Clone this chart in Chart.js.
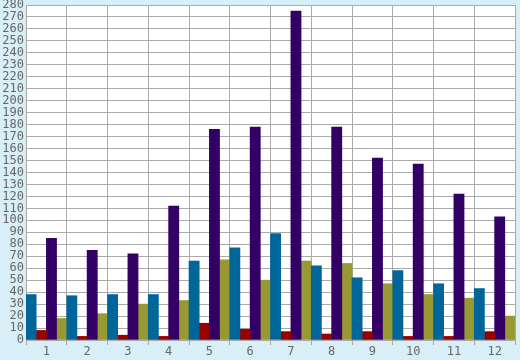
<!DOCTYPE html>
<html>
<head>
<meta charset="UTF-8">
<title>Bars</title>
<script src="https://cdn.jsdelivr.net/npm/chart.js"></script>
<style>
body{
  margin:0;
  background:#d9eff7;
}
</style>
</head>
<body>
<canvas id="chart" width="520" height="360"></canvas>

<script>
// datos
const labels = ["1","2","3","4","5","6","7","8","9","10","11","12"];
const blueVals   = [38, 37, 38, 38, 66, 77, 89, 62, 52, 58, 47, 43];
const redVals    = [8, 3, 4, 3, 14, 9, 7, 5, 7, 3, 3, 7];
const purpleVals = [85, 75, 72, 112, 176, 178, 275, 178, 152, 147, 122, 103];
const oliveVals  = [18, 22, 30, 33, 67, 50, 66, 64, 47, 38, 35, 20];
const yMax = 280;
const yStep = 10;

const font = {family:"DejaVu Sans Mono", size:12};

// fondo celeste + area blanca
const bgPlugin = {
  id:'bg',
  beforeDraw(chart){
    const c = chart.ctx, a = chart.chartArea;
    c.save();
    c.fillStyle = '#d9eff7';
    c.fillRect(0,0,chart.width,chart.height);
    c.fillStyle = '#ffffff';
    c.fillRect(a.left,a.top,a.right-a.left,a.bottom-a.top);
    c.restore();
  }
};

new Chart(document.getElementById('chart'),{
  type:'bar',
  data:{
    labels:labels,
    datasets:[
      {data:blueVals, backgroundColor:'#006699'},
      {data:redVals, backgroundColor:'#990000'},
      {data:purpleVals, backgroundColor:'#330066'},
      {data:oliveVals, backgroundColor:'#999933'}
    ]
  },
  options:{
    responsive:false,
    animation:false,
    devicePixelRatio:1,
    layout:{padding:{top:5, right:5, left:0, bottom:0}},
    plugins:{legend:{display:false}, tooltip:{enabled:false}},
    datasets:{bar:{categoryPercentage:1, barPercentage:1, borderWidth:0}},
    scales:{
      x:{
        grid:{color:'#aaaaaa', lineWidth:1, tickLength:5, offset:true},
        border:{color:'#aaaaaa'},
        ticks:{color:'#666666', font:font, padding:0, maxRotation:0},
        afterFit(s){ s.height = 20; s.paddingLeft = 0; s.paddingRight = 0; }
      },
      y:{
        min:0, max:yMax,
        grid:{color:'#aaaaaa', lineWidth:1, drawTicks:false},
        border:{color:'#aaaaaa'},
        ticks:{color:'#666666', font:font, stepSize:yStep, autoSkip:false, padding:2},
        afterFit(s){ s.width = 26; s.paddingTop = 0; s.paddingBottom = 0; }
      }
    }
  },
  plugins:[bgPlugin]
});
</script>
</body>
</html>
